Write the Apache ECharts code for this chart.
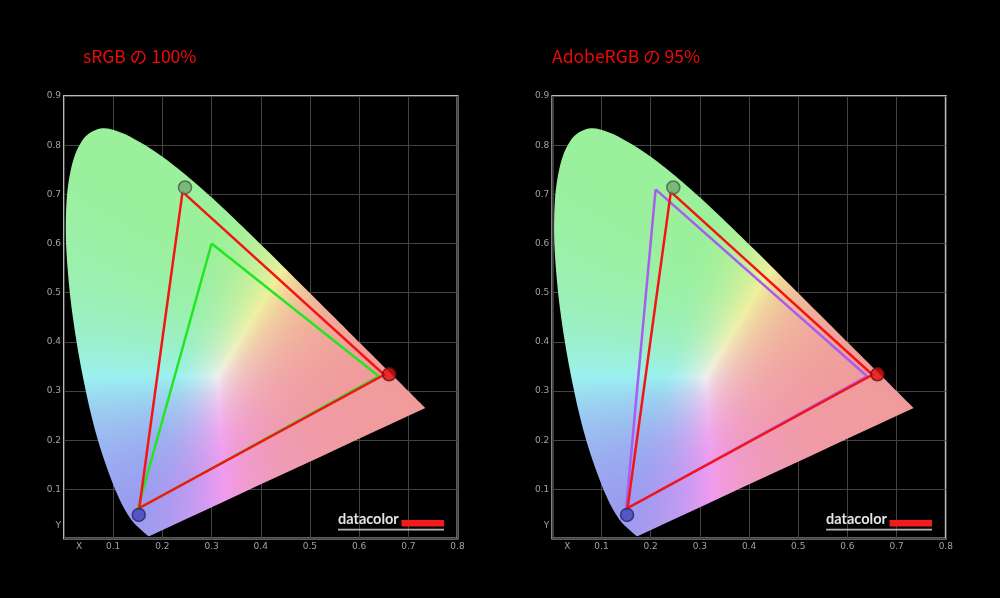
<!DOCTYPE html>
<html><head><meta charset="utf-8">
<script src="https://cdn.jsdelivr.net/npm/echarts@6/dist/echarts.min.js"></script>
<style>html,body{margin:0;padding:0;background:#000;}#c{width:1000px;height:598px;}</style>
</head><body><div id="c"></div>
<script>
// ---------- data ----------
const titles = ['sRGB の 100%', 'AdobeRGB の 95%'];
const xTickLabels = ['X', '0.1', '0.2', '0.3', '0.4', '0.5', '0.6', '0.7', '0.8'];
const yTickLabels = ['Y', '0.1', '0.2', '0.3', '0.4', '0.5', '0.6', '0.7', '0.8', '0.9'];
// CIE 1931 spectral locus (380-700 nm)
const locusX = [0.1741,0.1740,0.1738,0.1736,0.1733,0.1730,0.1726,0.1721,0.1714,0.1703,0.1689,0.1669,0.1644,0.1611,0.1566,0.1510,0.1440,0.1355,0.1241,0.1096,0.0913,0.0687,0.0454,0.0235,0.0082,0.0039,0.0139,0.0389,0.0743,0.1142,0.1547,0.1929,0.2296,0.2658,0.3016,0.3373,0.3731,0.4087,0.4441,0.4788,0.5125,0.5448,0.5752,0.6029,0.6270,0.6482,0.6658,0.6801,0.6915,0.7006,0.7079,0.7140,0.7190,0.7230,0.7260,0.7283,0.7300,0.7311,0.7320,0.7334,0.7344,0.7347];
const locusY = [0.0050,0.0050,0.0049,0.0049,0.0048,0.0048,0.0048,0.0048,0.0051,0.0058,0.0069,0.0086,0.0109,0.0138,0.0177,0.0227,0.0297,0.0399,0.0578,0.0868,0.1327,0.2007,0.2950,0.4127,0.5384,0.6548,0.7502,0.8120,0.8338,0.8262,0.8059,0.7816,0.7543,0.7243,0.6923,0.6589,0.6245,0.5896,0.5547,0.5202,0.4866,0.4544,0.4242,0.3965,0.3725,0.3514,0.3340,0.3197,0.3083,0.2993,0.2920,0.2859,0.2809,0.2770,0.2740,0.2717,0.2700,0.2689,0.2680,0.2666,0.2656,0.2653];
// measured display gamut (G, R, B)
const displayX = [0.241, 0.651, 0.153];
const displayY = [0.705, 0.333, 0.062];
// reference gamuts (G, R, B)
const srgbX = [0.30, 0.64, 0.15];
const srgbY = [0.60, 0.33, 0.06];
const adobeX = [0.21, 0.64, 0.15];
const adobeY = [0.71, 0.33, 0.06];
// measured primary markers (G, R, B)
const markerX = [0.246, 0.661, 0.152];
const markerY = [0.714, 0.334, 0.048];

// ---------- chart ----------
const chart = echarts.init(document.getElementById('c'), null, {renderer: 'canvas'});
let patternCanvas = null;

function tri(xs, ys) {
  const d = xs.map((x, i) => [x, ys[i]]);
  d.push(d[0]);
  return d;
}
const locusData = locusX.map((x, i) => [x, locusY[i]]);

function makeOption() {
  const gridPos = [{left: 64, top: 96, width: 393.5, height: 442.5}, {left: 552.3, top: 96, width: 393.5, height: 442.5}];
  const grids = gridPos.map(p => Object.assign({
    show: true, borderColor: '#b9b9b9', borderWidth: 2, backgroundColor: 'transparent', containLabel: false, outerBoundsMode: 'none'
  }, p));
  const lbl = {color: '#a2a2a2', fontSize: 9, fontFamily: 'DejaVu Sans'};
  const xAxes = [0, 1].map(g => ({
    type: 'value', gridIndex: g, min: 0, max: 0.8, interval: 0.1,
    axisLine: {show: false}, axisTick: {show: false},
    splitLine: {show: true, lineStyle: {color: '#434343', width: 1}},
    axisLabel: Object.assign({margin: 4, showMinLabel: true, showMaxLabel: true,
      formatter: v => { const i = Math.round(v * 10); return i === 0 ? '{x|' + xTickLabels[0] + '}' : xTickLabels[i]; },
      rich: {x: Object.assign({padding: [0, 0, 0, 30]}, lbl)}}, lbl)
  }));
  const yAxes = [0, 1].map(g => ({
    type: 'value', gridIndex: g, min: 0, max: 0.9, interval: 0.1,
    axisLine: {show: false}, axisTick: {show: false},
    splitLine: {show: true, lineStyle: {color: '#434343', width: 1}},
    axisLabel: Object.assign({margin: 3, showMinLabel: true, showMaxLabel: true,
      formatter: v => { const i = Math.round(v * 10); return i === 0 ? '{y|' + yTickLabels[0] + '}' : yTickLabels[i]; },
      rich: {y: Object.assign({padding: [0, 0, 26, 0]}, lbl)}}, lbl)
  }));
  const series = [];
  const refTri = [tri(srgbX, srgbY), tri(adobeX, adobeY)];
  const refColor = ['#22e622', '#a85cf2'];
  for (let g = 0; g < 2; g++) {
    series.push({
      type: 'custom', xAxisIndex: g, yAxisIndex: g, z: 1, silent: true, clip: false,
      data: locusData,
      renderItem: function (params, api) {
        if (params.dataIndex !== 0) return null;
        const pts = locusData.map(p => api.coord(p));
        return {type: 'polygon', shape: {points: pts, smooth: 0.35},
          style: {fill: patternCanvas ? {image: patternCanvas, repeat: 'no-repeat'} : '#98f59a', stroke: null}};
      }
    });
    series.push({
      type: 'line', xAxisIndex: g, yAxisIndex: g, z: 2, silent: true, showSymbol: false, symbol: 'none',
      data: refTri[g], lineStyle: {color: refColor[g], width: 2.5, join: 'miter', miterLimit: 20}
    });
    series.push({
      type: 'line', xAxisIndex: g, yAxisIndex: g, z: 3, silent: true, showSymbol: false, symbol: 'none',
      data: tri(displayX, displayY), lineStyle: {color: '#f41414', width: 2.5, join: 'miter', miterLimit: 20}
    });
    const mStyles = [
      {color: 'rgba(105,165,105,0.9)', borderColor: '#4b5b4b', borderWidth: 1.5},
      {color: '#e21212', borderColor: '#6e1010', borderWidth: 1.5},
      {color: '#4343bb', borderColor: '#25255f', borderWidth: 1.5}
    ];
    series.push({
      type: 'scatter', xAxisIndex: g, yAxisIndex: g, z: 4, silent: true, symbolSize: 13,
      data: markerX.map((x, i) => ({value: [x, markerY[i]], itemStyle: mStyles[i]}))
    });
  }
  const logo = [];
  [0, 488.1].forEach(dx => {
    logo.push({type: 'text', left: 338 + dx, top: 512, z: 10,
      style: {text: 'datacolor', fill: '#e4e4e4', font: 'bold 14.5px Lato'}});
    logo.push({type: 'rect', left: 401.5 + dx, top: 520, z: 10,
      shape: {width: 42.5, height: 6.5}, style: {fill: '#f21a1a'}});
    logo.push({type: 'rect', left: 338 + dx, top: 528.8, z: 10,
      shape: {width: 106, height: 1.6}, style: {fill: '#b4b4b4'}});
  });
  return {
    backgroundColor: '#000',
    animation: false,
    title: titles.map((t, i) => ({text: t, left: i === 0 ? 83 : 552, top: 47.5, padding: 0,
      textStyle: {color: '#ee0a0a', fontSize: 17.5, fontWeight: 'normal', fontFamily: 'Noto Sans CJK JP'}})),
    grid: grids, xAxis: xAxes, yAxis: yAxes, series: series, graphic: logo
  };
}

function chroma(x, y) {
  if (y < 0.003) y = 0.003;
  const X = x / y, Y = 1, Z = (1 - x - y) / y;
  let r = 3.2406 * X - 1.5372 * Y - 0.4986 * Z;
  let g = -0.9689 * X + 1.8758 * Y + 0.0415 * Z;
  let b = 0.0557 * X - 0.2040 * Y + 1.0570 * Z;
  r = Math.max(r, 0); g = Math.max(g, 0); b = Math.max(b, 0);
  const m = Math.max(r, g, b, 1e-6);
  const k = 0.67, W = 232;
  const f = v => Math.pow(v / m, 1.35) * 255 * (1 - k) + W * k;
  return [f(r), f(g), f(b)];
}

function buildPattern() {
  const cv = document.createElement('canvas');
  cv.width = 1000; cv.height = 598;
  const ctx = cv.getContext('2d');
  const img = ctx.createImageData(1000, 598);
  for (let g = 0; g < 2; g++) {
    const p0 = chart.convertToPixel({gridIndex: g}, [0, 0]);
    const p1 = chart.convertToPixel({gridIndex: g}, [0.8, 0.9]);
    const sx = 0.8 / (p1[0] - p0[0]), sy = 0.9 / (p1[1] - p0[1]);
    for (let py = Math.max(0, Math.floor(p1[1])); py <= Math.min(597, Math.ceil(p0[1])); py++) {
      for (let px = Math.max(0, Math.floor(p0[0])); px <= Math.min(999, Math.ceil(p1[0])); px++) {
        const x = (px + 0.5 - p0[0]) * sx, y = (py + 0.5 - p0[1]) * sy;
        const c = chroma(x, y);
        const o = (py * 1000 + px) * 4;
        img.data[o] = c[0]; img.data[o + 1] = c[1]; img.data[o + 2] = c[2]; img.data[o + 3] = 255;
      }
    }
  }
  ctx.putImageData(img, 0, 0);
  return cv;
}

chart.setOption(makeOption());
patternCanvas = buildPattern();
chart.setOption(makeOption(), true);
</script>
</body></html>
